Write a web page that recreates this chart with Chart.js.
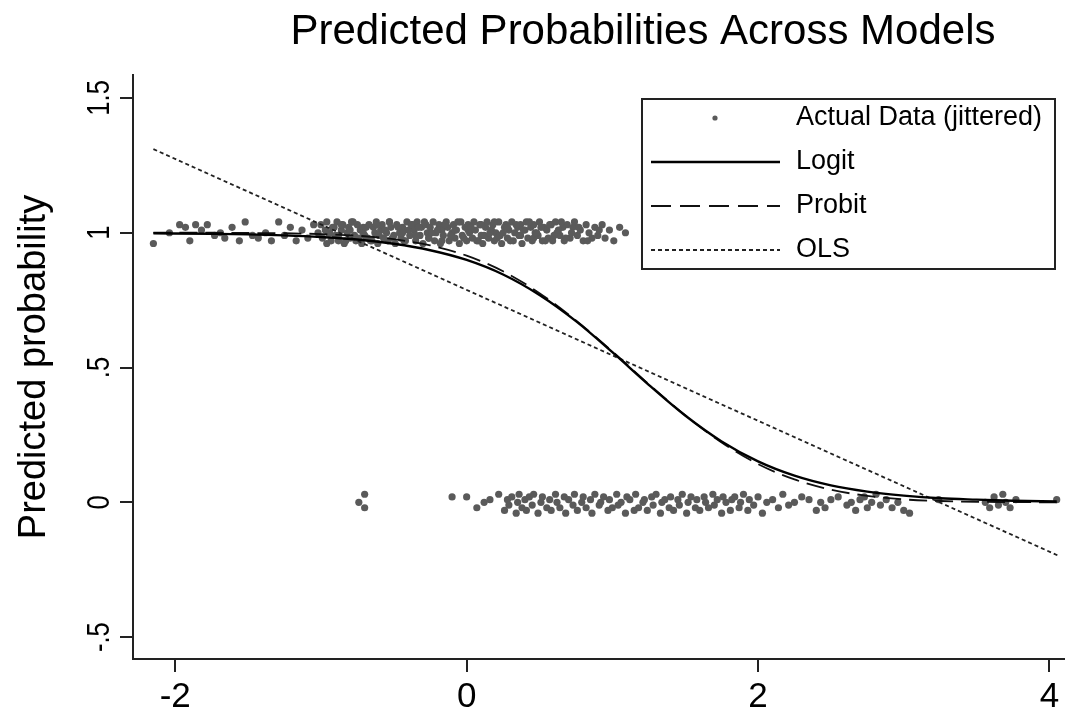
<!DOCTYPE html>
<html>
<head>
<meta charset="utf-8">
<title>Predicted Probabilities Across Models</title>
<script src="https://cdn.jsdelivr.net/npm/chart.js@4.4.1/dist/chart.umd.min.js"></script>
<style>
  html, body { margin: 0; padding: 0; background: #fff; }
  canvas { display: block; }
</style>
</head>
<body>
<canvas id="myChart" width="1068" height="711"></canvas>
<script>
'use strict'

var chartTitle = 'Predicted Probabilities Across Models';
var yAxisLabel = 'Predicted probability';

var xTicks = [-2, 0, 2, 4];
var xTickLabels = ['-2', '0', '2', '4'];
var yTicks = [-0.5, 0, 0.5, 1, 1.5];
var yTickLabels = ['-.5', '0', '.5', '1', '1.5'];

// fitted curves
var curveX = [-2.15, -1.75, -1.5, -1.25, -1, -0.75, -0.5, -0.25, 0, 0.25, 0.5, 0.75, 1,
  1.25, 1.5, 1.75, 2, 2.25, 2.5, 2.75, 3, 3.25, 3.5, 3.75, 4.05];
var logitY = [0.998, 0.996, 0.994, 0.990, 0.984, 0.975, 0.959, 0.935, 0.899, 0.845, 0.769, 0.672, 0.557,
  0.436, 0.322, 0.226, 0.152, 0.099, 0.063, 0.040, 0.025, 0.015, 0.010, 0.006, 0.003];
var probitY = [1.000, 1.000, 0.999, 0.998, 0.995, 0.989, 0.976, 0.953, 0.915, 0.857, 0.776, 0.675, 0.560,
  0.438, 0.323, 0.222, 0.142, 0.085, 0.047, 0.024, 0.011, 0.005, 0.002, 0.001, 0.000];
var olsX = [-2.15, 4.07];
var olsY = [1.31, -0.20];

// jittered observations with outcome 1
var upperX = [
  -2.15, -2.04, -1.97, -1.93, -1.90, -1.86, -1.82, -1.78, -1.73, -1.69,
  -1.66, -1.61, -1.56, -1.52, -1.47, -1.43, -1.38, -1.34, -1.29, -1.25,
  -1.21, -1.17, -1.13, -1.09, -1.05, -1.02,
  -1.00, -0.99, -0.97, -0.96, -0.96, -0.94, -0.93, -0.91, -0.90, -0.89,
  -0.88, -0.86, -0.85, -0.84, -0.82, -0.81, -0.80, -0.79, -0.77, -0.76,
  -0.75, -0.73, -0.72, -0.71, -0.70, -0.68, -0.67, -0.66, -0.64, -0.63,
  -0.62, -0.61, -0.59, -0.58, -0.57, -0.55, -0.54, -0.53, -0.52, -0.50,
  -0.49, -0.48, -0.46, -0.45, -0.44, -0.43, -0.41, -0.40, -0.39, -0.37,
  -0.36, -0.35, -0.34, -0.32, -0.31, -0.30, -0.28, -0.27, -0.26, -0.25,
  -0.23, -0.22, -0.21, -0.19, -0.18, -0.17, -0.16, -0.14, -0.13, -0.12,
  -0.10, -0.09, -0.08, -0.07, -0.05, -0.04, -0.03, -0.01, 0.00, 0.01,
  0.02, 0.04, 0.05, 0.06, 0.08, 0.09, 0.10, 0.11, 0.13, 0.14,
  0.15, 0.17, 0.18, 0.19, 0.20, 0.22, 0.23, 0.24, 0.26, 0.27,
  0.28, 0.29, 0.31, 0.32, 0.33, 0.35, 0.36, 0.37, 0.38, 0.40,
  0.41, 0.42, 0.44, 0.45, 0.46, 0.47, 0.49, 0.50, 0.52, 0.53,
  0.55, 0.56, 0.58, 0.59, 0.61, 0.62, 0.64, 0.66, 0.67, 0.69,
  0.71, 0.73, 0.74, 0.76, 0.78, 0.80, 0.82, 0.84, 0.86, 0.88,
  0.90, 0.93, 0.95, 0.98, 1.01, 1.05, 1.09,
  -0.95, -0.92, -0.88, -0.86, -0.83, -0.80, -0.78, -0.74, -0.71, -0.69,
  -0.65, -0.62, -0.60, -0.56, -0.53, -0.51, -0.47, -0.44, -0.42, -0.38,
  -0.35, -0.33, -0.29, -0.26, -0.24, -0.20, -0.17, -0.15, -0.11, -0.08,
  -0.06, -0.02, 0.01, 0.03, 0.07, 0.10, 0.12, 0.16, 0.19, 0.21,
  0.25, 0.28, 0.30, 0.34, 0.37, 0.39, 0.43, 0.46, 0.48, 0.51,
  0.54, 0.57, 0.60, 0.63, 0.65, 0.68, 0.72, 0.77, 0.83, 0.91
];
var upperY = [
  0.96, 1.00, 1.03, 1.02, 0.97, 1.03, 1.01, 1.03, 0.99, 1.00,
  0.98, 1.02, 0.97, 1.04, 0.99, 0.98, 1.00, 0.97, 1.04, 0.99,
  1.02, 0.97, 1.01, 0.98, 1.03, 1.00,
  1.03, 0.98, 1.01, 0.96, 1.04, 1.00, 0.97, 1.02, 0.99, 1.04,
  0.97, 1.01, 1.03, 0.96, 1.00, 1.02, 0.98, 1.04, 0.99, 0.97,
  1.03, 1.01, 0.96, 1.02, 0.99, 0.98, 1.03, 0.97, 1.02, 1.00,
  1.04, 0.96, 1.01, 1.03, 0.98, 1.00, 0.97, 1.04, 1.02, 0.99,
  0.96, 1.03, 1.00, 0.98, 1.02, 0.97, 1.04, 1.01, 0.99, 1.03,
  1.01, 0.97, 1.04, 0.99, 1.02, 0.96, 1.03, 1.00, 0.98, 1.02,
  1.04, 0.97, 1.00, 1.03, 0.96, 1.01, 0.99, 1.04, 1.02, 0.97,
  1.00, 1.03, 0.98, 1.01, 0.96, 1.04, 0.99, 1.02, 0.97, 1.03,
  1.00, 0.98, 1.04, 1.01, 0.97, 1.03, 0.99, 0.96, 1.02, 1.04,
  0.98, 1.01, 1.03, 0.97, 1.00, 1.04, 0.99, 0.96, 1.02, 1.03,
  0.98, 1.01, 1.04, 0.97, 1.00, 1.02, 0.99, 1.03, 0.96, 1.01,
  1.04, 0.98, 1.02, 0.97, 1.03, 1.00, 0.99, 1.04, 0.97, 1.02,
  1.01, 0.98, 1.03, 0.97, 1.04, 1.00, 0.99, 1.02, 0.97, 1.03,
  0.98, 1.02, 1.04, 0.99, 1.01, 0.97, 1.03, 1.00, 0.98, 1.02,
  0.99, 1.03, 0.98, 1.01, 0.97, 1.02, 1.00,
  1.00, 1.02, 0.99, 1.03, 0.97, 1.01, 1.04, 0.98, 1.00, 1.02,
  0.97, 1.03, 0.99, 1.01, 1.04, 0.98, 1.02, 1.00, 0.97, 1.03,
  0.99, 1.02, 1.04, 0.98, 1.00, 1.01, 0.97, 1.03, 0.99, 1.01,
  1.04, 0.98, 1.01, 1.02, 0.97, 1.03, 0.99, 1.00, 1.04, 0.98,
  1.00, 1.02, 0.97, 1.03, 0.99, 1.01, 1.04, 0.98, 1.00, 1.02,
  0.97, 1.03, 0.99, 1.01, 1.04, 0.98, 1.00, 1.02, 0.97, 1.01
];

// jittered observations with outcome 0
var lowerX = [
  -0.74, -0.70, -0.70, -0.10, 0.00, 0.07, 0.12, 0.16, 0.22, 0.26,
  0.28, 0.29, 0.31, 0.34, 0.35, 0.36, 0.38, 0.40, 0.41, 0.43,
  0.45, 0.46, 0.49, 0.51, 0.52, 0.55, 0.57, 0.58, 0.61, 0.62,
  0.64, 0.67, 0.68, 0.70, 0.73, 0.74, 0.76, 0.79, 0.80, 0.82,
  0.85, 0.86, 0.88, 0.91, 0.92, 0.94, 0.97, 0.98, 1.00, 1.03,
  1.04, 1.06, 1.09, 1.10, 1.12, 1.15, 1.16, 1.18, 1.21, 1.22,
  1.24, 1.27, 1.28, 1.30, 1.33, 1.34, 1.36, 1.39, 1.40, 1.42,
  1.45, 1.46, 1.48, 1.51, 1.52, 1.54, 1.57, 1.58, 1.60, 1.63,
  1.64, 1.66, 1.69, 1.70, 1.72, 1.75, 1.76, 1.78, 1.81, 1.82,
  1.84, 1.87, 1.88, 1.90, 1.93, 1.94, 1.97, 2.00, 2.03, 2.06,
  2.10, 2.14, 2.17, 2.21, 2.25, 2.30, 2.35, 2.40, 2.43, 2.46,
  2.50, 2.55, 2.61, 2.64, 2.67, 2.70, 2.73, 2.75, 2.78, 2.81,
  2.84, 2.88, 2.92, 2.96, 3.00, 3.04, 3.24, 3.56, 3.59, 3.62,
  3.65, 3.68, 3.70, 3.73, 3.77, 4.05
];
var lowerY = [
  0.00, 0.03, -0.02, 0.02, 0.02, -0.02, 0.00, 0.01, 0.03, -0.03,
  0.01, -0.01, 0.02, -0.04, 0.00, 0.03, -0.02, 0.01, -0.03, 0.02,
  -0.01, 0.03, -0.04, 0.00, 0.02, -0.02, 0.01, -0.03, 0.03, 0.00,
  -0.02, 0.02, -0.04, 0.01, -0.01, 0.03, -0.03, 0.00, 0.02, -0.02,
  0.01, -0.04, 0.03, -0.01, 0.00, 0.02, -0.03, 0.01, -0.02, 0.03,
  -0.01, 0.00, -0.04, 0.02, 0.01, -0.03, 0.03, -0.02, 0.00, 0.01,
  -0.03, 0.02, -0.01, 0.03, -0.04, 0.00, 0.01, -0.02, 0.02, -0.03,
  0.01, -0.01, 0.03, -0.04, 0.00, 0.02, -0.02, 0.01, -0.03, 0.02,
  0.00, -0.02, 0.03, -0.01, 0.01, -0.04, 0.02, 0.00, -0.03, 0.01,
  0.02, -0.02, 0.00, 0.03, -0.03, 0.01, -0.01, 0.02, -0.04, 0.00,
  0.01, -0.02, 0.03, -0.01, 0.00, 0.02, 0.01, -0.03, 0.00, -0.02,
  0.01, 0.02, -0.01, 0.00, -0.03, 0.01, 0.02, -0.02, 0.00, 0.03,
  -0.01, 0.01, -0.02, 0.00, -0.03, -0.04, 0.01, 0.00, -0.02, 0.02,
  -0.01, 0.03, 0.00, -0.02, 0.01, 0.01
];

function toPoints(xs, ys) {
  return xs.map(function(x, i) { return { x: x, y: ys[i] }; });
}

var sans = "'Liberation Sans', Arial, sans-serif";

// title drawn a bit right of centre, as in the source
var titlePlugin = {
  id: 'stataTitle',
  afterDraw: function(chart) {
    var c = chart.ctx;
    c.save();
    c.fillStyle = '#000';
    c.font = '42px ' + sans;
    c.textAlign = 'center';
    c.textBaseline = 'alphabetic';
    c.fillText(chartTitle, 643, 44);
    c.restore();
  }
};

// y tick labels are rotated (and a little condensed) in the source
var yLabelPlugin = {
  id: 'rotatedYTicks',
  afterDraw: function(chart) {
    var ys = chart.scales.y;
    var c = chart.ctx;
    c.save();
    c.fillStyle = '#000';
    c.font = '32px ' + sans;
    c.textAlign = 'center';
    c.textBaseline = 'middle';
    yTicks.forEach(function(v, i) {
      var py = ys.getPixelForValue(v);
      c.save();
      c.translate(ys.right - 33, py);
      c.rotate(-Math.PI / 2);
      c.scale(0.8, 1);
      c.fillText(yTickLabels[i], 0, 0);
      c.restore();
    });
    c.restore();
  }
};

// legend box inside the plot, top right
var legendPlugin = {
  id: 'boxLegend',
  afterDraw: function(chart) {
    var c = chart.ctx;
    var area = chart.chartArea;
    var right = area.right - 9, top = area.top + 24;
    var left = right - 413, bottom = top + 170;
    var order = [3, 0, 1, 2];
    c.save();
    c.fillStyle = '#fff';
    c.fillRect(left, top, right - left, bottom - top);
    c.strokeStyle = '#222';
    c.lineWidth = 2;
    c.strokeRect(left, top, right - left, bottom - top);
    c.font = '27px ' + sans;
    c.textBaseline = 'middle';
    c.textAlign = 'left';
    order.forEach(function(di, row) {
      var ds = chart.data.datasets[di];
      var y = top + 19 + row * 44;
      if (ds.showLine === false) {
        c.fillStyle = ds.backgroundColor;
        c.beginPath();
        c.arc(left + 73, y, 2.6, 0, Math.PI * 2);
        c.fill();
      } else {
        c.strokeStyle = ds.borderColor;
        c.lineWidth = ds.borderWidth;
        c.setLineDash(ds.legendDash || ds.borderDash || []);
        c.beginPath();
        c.moveTo(left + 9, y);
        c.lineTo(left + 138, y);
        c.stroke();
        c.setLineDash([]);
      }
      c.fillStyle = '#000';
      c.fillText(ds.label, left + 154, y);
    });
    c.restore();
  }
};

var ctx = document.getElementById('myChart');

var chart = new Chart(ctx, {
  type: 'scatter',
  data: {
    datasets: [{
      label: 'Logit',
      data: toPoints(curveX, logitY),
      showLine: true,
      borderColor: '#000',
      borderWidth: 2.4,
      pointRadius: 0,
      cubicInterpolationMode: 'monotone',
      order: 1
    },
    {
      label: 'Probit',
      data: toPoints(curveX, probitY),
      showLine: true,
      borderColor: '#111',
      borderWidth: 1.8,
      borderDash: [18, 8],
      legendDash: [20, 9],
      pointRadius: 0,
      cubicInterpolationMode: 'monotone',
      order: 2
    },
    {
      label: 'OLS',
      data: toPoints(olsX, olsY),
      showLine: true,
      borderColor: '#222',
      borderWidth: 1.8,
      borderDash: [4, 3],
      pointRadius: 0,
      order: 3
    },
    {
      label: 'Actual Data (jittered)',
      data: toPoints(upperX, upperY).concat(toPoints(lowerX, lowerY)),
      showLine: false,
      backgroundColor: '#5a5a5a',
      borderWidth: 0,
      pointRadius: 3.6,
      order: 4
    }]
  },
  options: {
    responsive: false,
    animation: false,
    layout: { padding: { top: 75, right: 3, left: 0, bottom: 0 } },
    plugins: {
      legend: { display: false },
      tooltip: { enabled: false },
      title: { display: false }
    },
    scales: {
      x: {
        type: 'linear',
        min: -2.29,
        max: 4.10,
        afterBuildTicks: function(s) { s.ticks = xTicks.map(function(v) { return { value: v }; }); },
        afterFit: function(s) { s.height = 52; },
        grid: { display: true, drawOnChartArea: false, drawTicks: true, tickLength: 13, color: '#222', lineWidth: 2 },
        border: { display: true, color: '#222', width: 2 },
        ticks: {
          color: '#000',
          padding: 4,
          maxRotation: 0,
          font: { family: sans, size: 35 },
          callback: function(v) { return xTickLabels[xTicks.indexOf(v)]; }
        }
      },
      y: {
        type: 'linear',
        min: -0.581,
        max: 1.585,
        afterBuildTicks: function(s) { s.ticks = yTicks.map(function(v) { return { value: v }; }); },
        afterFit: function(s) { s.width = 133; },
        grid: { display: true, drawOnChartArea: false, drawTicks: true, tickLength: 13, color: '#222', lineWidth: 2 },
        border: { display: true, color: '#222', width: 2 },
        ticks: { display: false },
        title: {
          display: true,
          text: yAxisLabel,
          color: '#000',
          font: { family: sans, size: 38 },
          padding: { top: 12, bottom: 0 }
        }
      }
    }
  },
  plugins: [titlePlugin, yLabelPlugin, legendPlugin]
});
</script>
</body>
</html>
